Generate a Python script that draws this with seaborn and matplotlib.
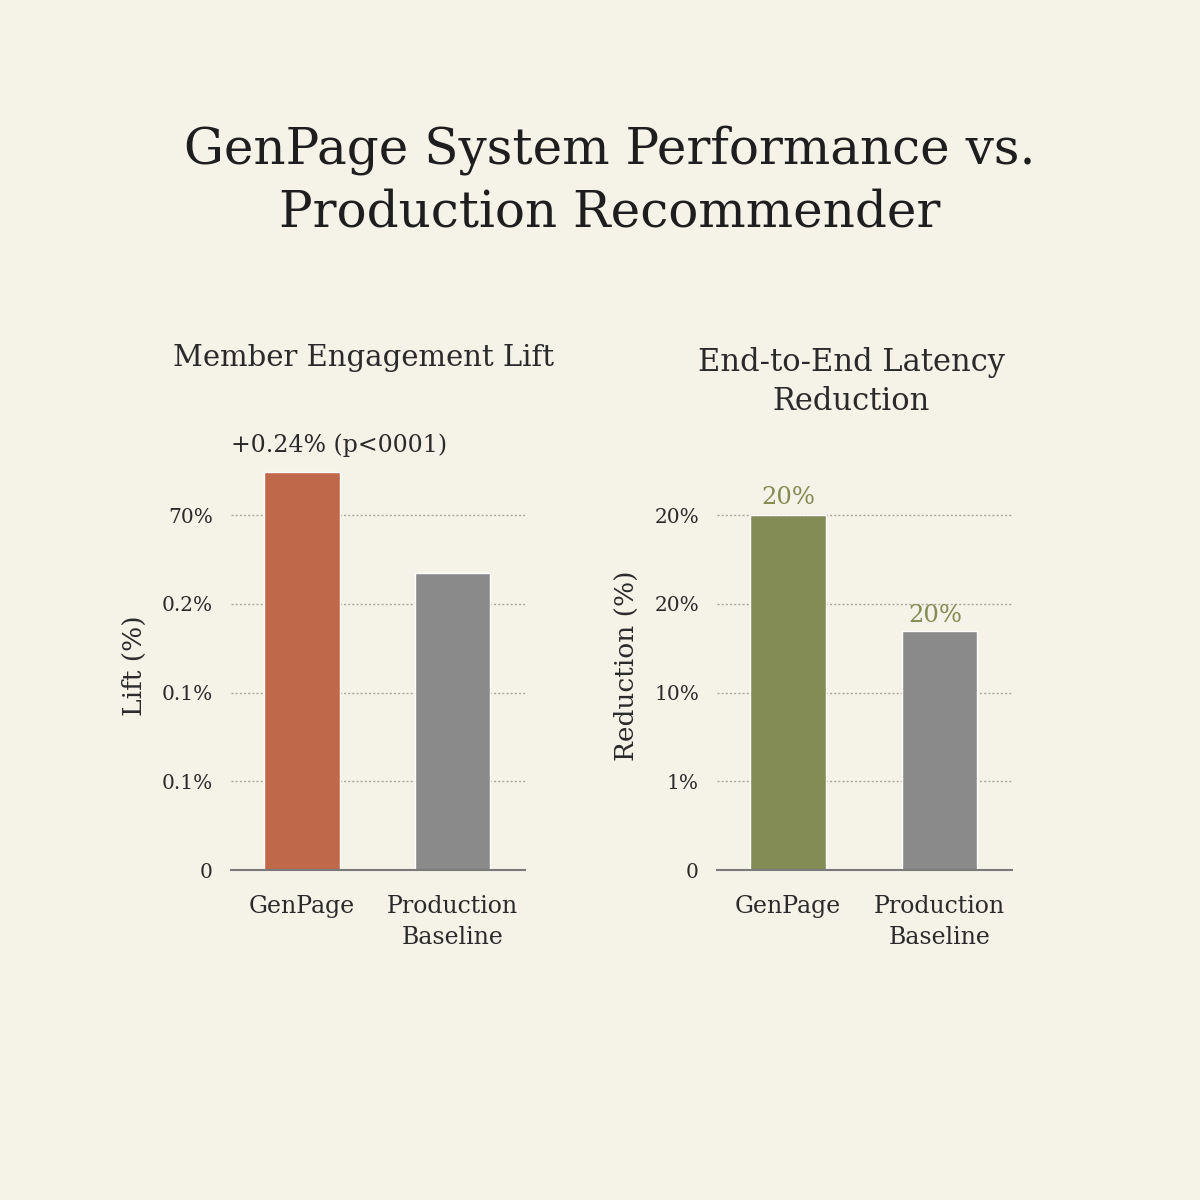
import matplotlib
matplotlib.use("Agg")
import matplotlib.pyplot as plt
import seaborn as sns
import pandas as pd

# ---- data ----
categories = ["GenPage", "Production\nBaseline"]
lift_values = [4.49, 3.35]            # in tick-slot units as drawn
latency_values = [4.0, 2.69]
lift_ticks = [0, 1, 2, 3, 4]
lift_tick_labels = ["0", "0.1%", "0.1%", "0.2%", "70%"]
latency_ticks = [0, 1, 2, 3, 4]
latency_tick_labels = ["0", "1%", "10%", "20%", "20%"]
lift_note = "+0.24% (p<0001)"
latency_bar_labels = ["20%", "20%"]

BG = "#f5f2e8"
ORANGE = "#c0694a"
GRAY = "#8a8a8a"
GREEN = "#838c55"
TEXT = "#2a2a2a"

sns.set_theme(style="white")
plt.rcParams["font.family"] = ["DejaVu Serif", "Liberation Serif"]
plt.rcParams["figure.facecolor"] = BG
plt.rcParams["axes.facecolor"] = BG

fig = plt.figure(figsize=(12, 12), dpi=100)
fig.patch.set_facecolor(BG)

fig.text(0.508, 0.849, "GenPage System Performance vs.\nProduction Recommender",
         ha="center", va="center", fontsize=36, color="#1e1e1e", linespacing=1.33)

ax1 = fig.add_axes([0.1925, 0.275, 0.245, 0.34])
ax2 = fig.add_axes([0.5975, 0.275, 0.246, 0.34])


def style(ax, ticks, labels, ylabel):
    ax.set_facecolor(BG)
    ax.set_xlim(-0.47, 1.48)
    ax.set_ylim(0, 4.6)
    ax.set_yticks(ticks)
    ax.set_yticklabels(labels)
    ax.tick_params(axis="y", length=0, pad=13, labelsize=14.5, labelcolor=TEXT)
    ax.tick_params(axis="x", length=0, pad=18, labelsize=17, labelcolor=TEXT)
    ax.set_xticks([0, 1])
    ax.set_xticklabels(categories, linespacing=1.45)
    ax.set_xticks([0.5], minor=True)
    ax.tick_params(axis="x", which="minor", length=6, width=1.2, color="#777777", direction="out")
    for s in ["top", "right", "left"]:
        ax.spines[s].set_visible(False)
    ax.spines["bottom"].set_color("#7a7a7a")
    ax.spines["bottom"].set_linewidth(1.5)
    for t in ticks[1:]:
        ax.axhline(t, color="#aaa69c", linestyle=(0, (1.5, 1.5)), linewidth=1.0, zorder=0)
    ax.set_xlabel("")
    ax.set_ylabel(ylabel, fontsize=19, color=TEXT, labelpad=11)


df1 = pd.DataFrame({"cat": categories, "val": lift_values})
sns.barplot(data=df1, x="cat", y="val", hue="cat", palette=[ORANGE, GRAY],
            width=0.5, legend=False, ax=ax1, saturation=1, zorder=2)
style(ax1, lift_ticks, lift_tick_labels, "Lift (%)")
ax1.text(0.449, 1.255, "Member Engagement Lift", transform=ax1.transAxes,
         ha="center", va="center", fontsize=21, color=TEXT)
ax1.text(0.25, lift_values[0] + 0.3, lift_note, ha="center", va="center",
         fontsize=17, color=TEXT, clip_on=False)

df2 = pd.DataFrame({"cat": categories, "val": latency_values})
sns.barplot(data=df2, x="cat", y="val", hue="cat", palette=[GREEN, GRAY],
            width=0.5, legend=False, ax=ax2, saturation=1, zorder=2)
style(ax2, latency_ticks, latency_tick_labels, "Reduction (%)")
ax2.text(0.455, 1.196, "End-to-End Latency\nReduction", transform=ax2.transAxes,
         ha="center", va="center", fontsize=22, color=TEXT, linespacing=1.35)
offsets = [0.2, 0.18]
xs = [0, 0.97]
for x, v, lab, off in zip(xs, latency_values, latency_bar_labels, offsets):
    ax2.text(x, v + off, lab, ha="center", va="center", fontsize=17.5, color=GREEN, clip_on=False)

fig.savefig("out.png", dpi=100, facecolor=BG)
